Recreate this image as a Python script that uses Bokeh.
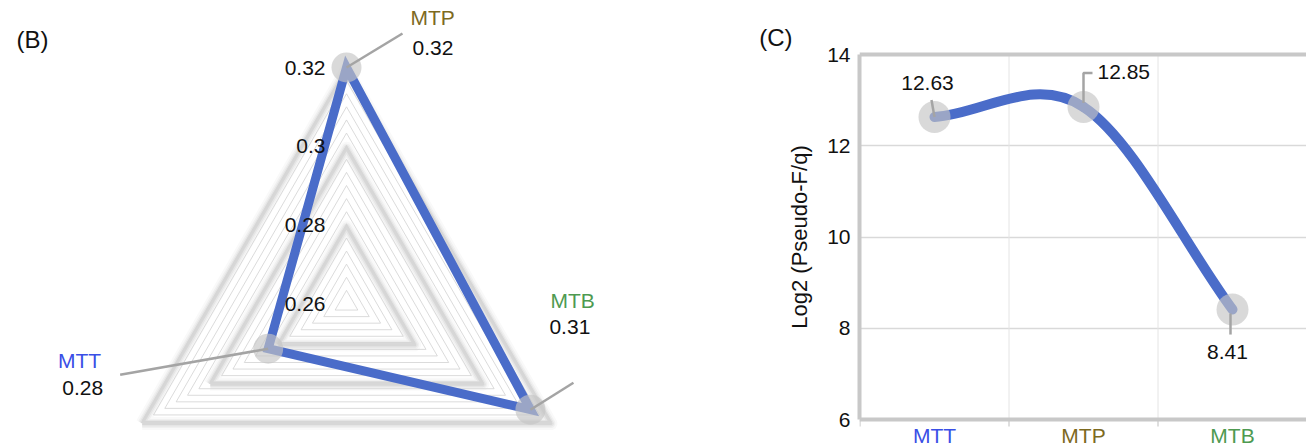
import math
import json
import numpy as np
from bokeh.plotting import figure
from bokeh.models import (Range1d, Label, LinearAxis, FixedTicker, Span,
                          CustomJSTickFormatter)
from bokeh.layouts import row
from bokeh.embed import file_html
from bokeh.resources import INLINE

# ---------------- data ----------------
RADAR_CATS = ["MTT", "MTP", "MTB"]
RADAR_VALS = [0.283, 0.320, 0.314]
RADAR_TICKS = [0.26, 0.28, 0.30, 0.32]
RADAR_MINOR = 6          # sub-divisions between major rings

LINE_CATS = ["MTT", "MTP", "MTB"]
LINE_VALS = [12.63, 12.85, 8.41]
LINE_TICKS = [6, 8, 10, 12, 14]
Y_TITLE = "Log2 (Pseudo-F/q)"
PANEL_B = "(B)"
PANEL_C = "(C)"

# ---------------- style / layout ----------------
FONT = "Liberation Sans"
FS = "21px"
BLUE = "#4a6cc9"
CAT_COLORS = ["#3a4fe6", "#7d6a1f", "#4e9a51"]
GREY_PT = "#c4c4c4"
LEADER = "#a4a4a4"
BORDER = "#c8c8c8"
TXT = "#111111"

H = 448
WL = 749
CX, CY = 346, 303          # radar centre (canvas px from top-left)
R_PX = 236                 # radius of outer ring
RADAR_ANG = [210, 90, -30] # direction for each category (deg)
# label placement offsets (px, y up) relative to each point
LEAD_END = [(-148, -26), (56, 34), (43, 27)]
NAME_POS = [(-167, -12, "right"), (64, 50, "left"), (20, 109, "left")]
VAL_POS = [(-165, -39, "right"), (66, 20, "left"), (19, 83, "left")]

# ---------------- left: radar ----------------
left = figure(width=WL, height=H, x_range=Range1d(-CX, WL - CX),
              y_range=Range1d(-(H - CY), CY), output_backend="svg",
              toolbar_location=None, x_axis_type=None, y_axis_type=None,
              min_border=0, title=None)
left.outline_line_color = None
left.grid.visible = False

rmin, rmax = RADAR_TICKS[0], RADAR_TICKS[-1]


def polar(v, ang):
    r = (v - rmin) / (rmax - rmin) * R_PX
    a = math.radians(ang)
    return r * math.cos(a), r * math.sin(a)


step = (RADAR_TICKS[1] - RADAR_TICKS[0]) / RADAR_MINOR
n_levels = int(round((rmax - rmin) / step))
minor_xs, minor_ys, major_xs, major_ys = [], [], [], []
for k in range(1, n_levels + 1):
    v = rmin + k * step
    pts = [polar(v, a) for a in RADAR_ANG] + [polar(v, RADAR_ANG[0])]
    xs_ = [p[0] for p in pts]
    ys_ = [p[1] for p in pts]
    if k % RADAR_MINOR == 0:
        major_xs.append(xs_)
        major_ys.append(ys_)
    else:
        minor_xs.append(xs_)
        minor_ys.append(ys_)

for w, a in [(13, 0.035), (9, 0.05), (6, 0.07), (3, 0.09)]:
    left.multi_line(major_xs, [[y - 2 for y in ys_] for ys_ in major_ys],
                    line_color="#505050", line_alpha=a, line_width=w, line_join="round")
left.multi_line(minor_xs, minor_ys, line_color="#d2d2d2", line_width=0.8, line_join="miter")
left.multi_line(major_xs, major_ys, line_color="#d6d6d6", line_width=1.5, line_join="miter")

px = [polar(v, a)[0] for v, a in zip(RADAR_VALS, RADAR_ANG)]
py = [polar(v, a)[1] for v, a in zip(RADAR_VALS, RADAR_ANG)]
left.patch(px, py, fill_color=None, line_color=BLUE, line_width=9, line_join="miter")
left.scatter(px, py, size=30, fill_color=GREY_PT, fill_alpha=0.65, line_color=None)
left.segment(px, py, [x + d[0] for x, d in zip(px, LEAD_END)],
             [y + d[1] for y, d in zip(py, LEAD_END)], line_color=LEADER, line_width=2.5)

for t in RADAR_TICKS:
    _, ty = polar(t, 90)
    left.add_layout(Label(x=-21, y=ty, text=f"{t:g}", text_align="right",
                          text_baseline="middle", text_font=FONT, text_font_size=FS,
                          text_color=TXT))

for i, cat in enumerate(RADAR_CATS):
    nx, ny, na = NAME_POS[i]
    vx, vy, va = VAL_POS[i]
    left.add_layout(Label(x=px[i] + nx, y=py[i] + ny, text=cat, text_align=na,
                          text_baseline="middle", text_font=FONT, text_font_size=FS,
                          text_color=CAT_COLORS[i]))
    left.add_layout(Label(x=px[i] + vx, y=py[i] + vy, text=f"{RADAR_VALS[i]:.2f}",
                          text_align=va, text_baseline="middle", text_font=FONT,
                          text_font_size=FS, text_color=TXT))

left.add_layout(Label(x=32 - CX, y=CY - 39, text=PANEL_B, text_align="center",
                      text_baseline="middle", text_font=FONT, text_font_size="24px",
                      text_color=TXT))

# ---------------- right: line chart ----------------
FRAME_T, FRAME_B = 54, 419   # plot box top / bottom in page px
MB_L = 110
WR = 1306 - WL
CAT_PX = 149
X0 = -75 / CAT_PX
ymin, ymax = LINE_TICKS[0], LINE_TICKS[-1]
PY_UNIT = (FRAME_B - FRAME_T) / (ymax - ymin)
FW = WR - MB_L

right = figure(width=WR, height=H, x_range=Range1d(X0, X0 + FW / CAT_PX),
               y_range=Range1d(ymin - (H - FRAME_B) / PY_UNIT, ymax + FRAME_T / PY_UNIT),
               output_backend="svg", toolbar_location=None, x_axis_type=None,
               min_border_left=MB_L, min_border_right=0, min_border_top=0,
               min_border_bottom=0, title=None)
right.outline_line_color = None

yax = right.yaxis[0]
yax.ticker = FixedTicker(ticks=LINE_TICKS)
yax.bounds = (ymin, ymax)
yax.axis_line_width = 4
yax.axis_line_color = BORDER
yax.major_tick_line_color = None
yax.major_tick_out = 0
yax.major_tick_in = 0
yax.minor_tick_line_color = None
yax.minor_tick_out = 0
yax.major_label_text_font = FONT
yax.major_label_text_font_size = FS
yax.major_label_text_color = TXT
yax.major_label_standoff = 9


def outer_axis(tick, text, size, standoff, orientation="horizontal"):
    return LinearAxis(ticker=FixedTicker(ticks=[tick]),
                      formatter=CustomJSTickFormatter(code="return %s;" % json.dumps(text)),
                      axis_line_color=None, major_tick_line_color=None, major_tick_out=0,
                      major_tick_in=0, minor_tick_line_color=None, minor_tick_out=0,
                      major_label_text_font=FONT, major_label_text_font_size=size,
                      major_label_text_color=TXT, major_label_standoff=standoff,
                      major_label_orientation=orientation)


# y-axis title, centred on the 6..14 span, then the panel letter further out
right.add_layout(outer_axis((ymin + ymax) / 2, Y_TITLE, "22px", 13, "vertical"), "left")
right.add_layout(outer_axis(ymax + 0.375, PANEL_C, "24px", -9), "left")

right.ygrid.ticker = FixedTicker(ticks=LINE_TICKS[1:-1])
right.ygrid.grid_line_color = "#d9d9d9"
right.ygrid.grid_line_width = 1.5

bnd = [i + 0.5 for i in range(len(LINE_CATS) - 1)]
right.segment(x0=bnd, y0=ymin, x1=bnd, y1=ymax, line_color="#e4e4e4", line_width=1)
tk = [-0.5] + bnd
right.segment(x0=tk, y0=ymin, x1=tk, y1=ymin - 7 / PY_UNIT, line_color="#d4d4d4",
              line_width=1.5)
right.add_layout(Span(location=ymin, dimension="width", line_color=BORDER, line_width=4))
right.add_layout(Span(location=ymax, dimension="width", line_color=BORDER, line_width=4))

# smooth curve: cubic Hermite (finite-difference tangents) drawn as bezier segments
yv = np.array(LINE_VALS, dtype=float)
n = len(yv)
m = np.zeros(n)
m[0] = yv[1] - yv[0]
m[-1] = yv[-1] - yv[-2]
for i in range(1, n - 1):
    m[i] = (yv[i + 1] - yv[i - 1]) / 2
xs = np.arange(n, dtype=float)
right.bezier(x0=xs[:-1], y0=yv[:-1], x1=xs[1:], y1=yv[1:],
             cx0=xs[:-1] + 1 / 3, cy0=yv[:-1] + m[:-1] / 3,
             cx1=xs[1:] - 1 / 3, cy1=yv[1:] - m[1:] / 3,
             line_color=BLUE, line_width=10, line_cap="round")
right.scatter(xs, yv, size=32, fill_color=GREY_PT, fill_alpha=0.65, line_color=None)

# data labels with leader lines (offsets in px, y up)
LEADS = [[(0, 0), (-3, 17)], [(0, 4), (0, 34), (9, 34)], [(-2, -4), (-2, -25)]]
DLAB = [(-7, 34, "center"), (14, 35, "left"), (-5, -42, "center")]
lx, ly = [], []
for i in range(n):
    lx.append([xs[i] + dx / CAT_PX for dx, dy in LEADS[i]])
    ly.append([yv[i] + dy / PY_UNIT for dx, dy in LEADS[i]])
    ox, oy, al = DLAB[i]
    right.add_layout(Label(x=xs[i], y=yv[i], x_offset=ox, y_offset=oy,
                           text=f"{LINE_VALS[i]:.2f}", text_align=al,
                           text_baseline="middle", text_font=FONT, text_font_size=FS,
                           text_color=TXT))
right.multi_line(lx, ly, line_color=LEADER, line_width=2.5)

for i, cat in enumerate(LINE_CATS):
    right.add_layout(Label(x=i, y=ymin, y_offset=-16, text=cat, text_align="center",
                           text_baseline="middle", text_font=FONT, text_font_size=FS,
                           text_color=CAT_COLORS[i]))

layout = row(left, right)
open("out.html", "w").write(file_html(layout, INLINE))
